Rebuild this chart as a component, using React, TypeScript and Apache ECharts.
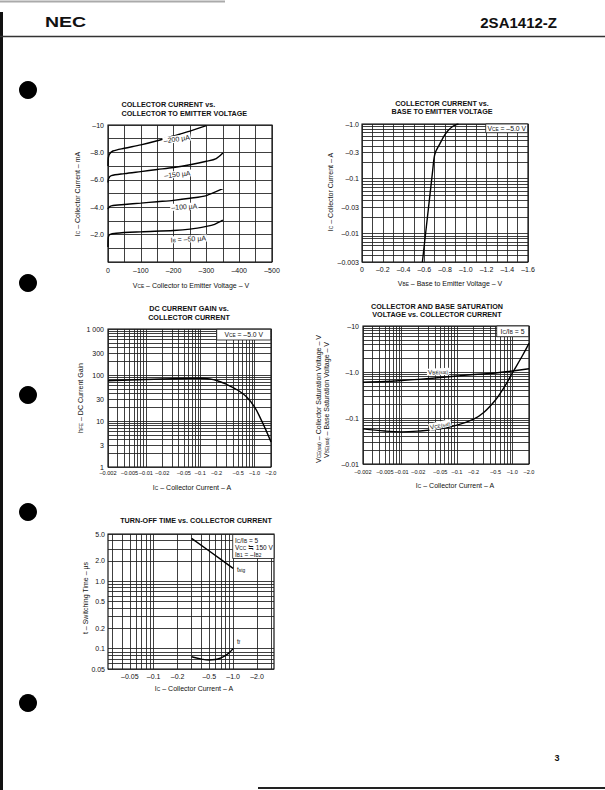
import React, { useEffect, useRef } from "react";
import * as echarts from "echarts";

const FONT = "'Liberation Sans', Arial, Helvetica, sans-serif";

// ---------- Chart 1: IC (mA) vs VCE (V) ----------
const ib200Vce = [0, -1, -5, -15, -50, -100, -150, -200, -250, -300];
const ib200Ic = [-7.0, -7.6, -7.9, -8.1, -8.3, -8.55, -8.85, -9.2, -9.55, -9.95];
const ib150Vce = [0, -2, -10, -50, -100, -150, -200, -250, -300, -330, -350];
const ib150Ic = [-5.8, -6.1, -6.3, -6.45, -6.6, -6.75, -6.9, -7.1, -7.35, -7.55, -7.95];
const ib100Vce = [0, -3, -10, -50, -100, -150, -200, -250, -300, -350];
const ib100Ic = [-3.85, -4.0, -4.1, -4.2, -4.3, -4.4, -4.5, -4.65, -4.85, -5.35];
const ib50Vce = [0, -1, -5, -25, -100, -200, -250, -300, -325, -350];
const ib50Ic = [-1.1, -1.8, -2.0, -2.1, -2.2, -2.3, -2.4, -2.6, -2.75, -3.05];

// ---------- Chart 2: IC (A) vs VBE (V) ----------
const vbeVolts = [-0.582, -0.6, -0.62, -0.64, -0.66, -0.68, -0.695, -0.71, -0.735, -0.76, -0.79, -0.83, -0.87, -0.9, -0.93];
const vbeIc = [-0.003, -0.006, -0.0131, -0.0284, -0.062, -0.134, -0.24, -0.31, -0.385, -0.47, -0.6, -0.76, -0.89, -0.96, -1.0];
const vbeIcLabelVals = [0.003, 0.01, 0.03, 0.1, 0.3, 1];
const vbeIcLabelText = ["–0.003", "–0.01", "–0.03", "–0.1", "–0.3", "–1.0"];

// ---------- Chart 3: hFE vs IC ----------
const hfeIc = [-0.002, -0.005, -0.01, -0.02, -0.05, -0.1, -0.15, -0.2, -0.3, -0.5, -0.7, -1.0, -1.3, -1.6, -2.0];
const hfeGain = [75, 78, 80, 82, 84, 85, 82, 76, 63, 46, 34, 20, 11, 6.5, 3.5];
const hfeLabelVals = [1, 3, 10, 30, 100, 300, 1000];
const hfeLabelText = ["1", "3", "10", "30", "100", "300", "1 000"];

// ---------- Chart 4: saturation voltages vs IC ----------
const satIcBe = [-0.002, -0.005, -0.01, -0.02, -0.05, -0.1, -0.2, -0.5, -1.0, -2.0];
const vbeSat = [-0.6, -0.62, -0.65, -0.69, -0.76, -0.82, -0.88, -0.95, -1.05, -1.18];
const satIcCe = [-0.002, -0.005, -0.01, -0.02, -0.05, -0.1, -0.2, -0.3, -0.5, -0.7, -1.0, -1.5, -2.0];
const vceSat = [-0.058, -0.052, -0.05, -0.052, -0.058, -0.07, -0.095, -0.13, -0.25, -0.45, -0.95, -2.2, -4.2];
const satLabelVals = [0.01, 0.1, 1, 10];
const satLabelText = ["–0.01", "–0.1", "–1.0", "–10"];

// shared collector-current log axis (charts 3, 4)
const icLabelVals = [0.002, 0.005, 0.01, 0.02, 0.05, 0.1, 0.2, 0.5, 1, 2];
const icLabelText = ["–0.002", "–0.005", "–0.01", "–0.02", "–0.05", "–0.1", "–0.2", "–0.5", "–1.0", "–2.0"];

// ---------- Chart 5: turn-off time vs IC ----------
const stgIc = [-0.3, -0.5, -0.7, -1.0];
const stgTime = [4.3, 2.8, 2.1, 1.55];
const tfIc = [-0.3, -0.4, -0.5, -0.6, -0.7, -0.85, -1.0];
const tfTime = [0.076, 0.07, 0.068, 0.069, 0.073, 0.083, 0.1];
const swLabelVals = [0.05, 0.1, 0.2, 0.5, 1, 2, 5];
const swLabelText = ["0.05", "0.1", "0.2", "0.5", "1.0", "2.0", "5.0"];
const swIcLabelVals = [0.05, 0.1, 0.2, 0.5, 1, 2];
const swIcLabelText = ["–0.05", "–0.1", "–0.2", "–0.5", "–1.0", "–2.0"];

// ---------- helpers ----------
const lg = (v: number) => Math.log10(Math.abs(v));
const zip = (a: number[], b: number[]) => a.map((v, i) => [v, b[i]]);
const zipLog = (a: number[], b: number[]) => a.map((v, i) => [lg(v), lg(b[i])]);

function logLines(lo: number, hi: number) {
  const out: number[] = [];
  for (let e = -4; e <= 4; e++) {
    for (let m = 1; m <= 9; m++) {
      const v = m * Math.pow(10, e);
      if (v >= lo * 0.9999 && v <= hi * 1.0001) out.push(Math.log10(v));
    }
  }
  return out;
}

const GRIDLINE = { color: "#1e1e1e", width: 0.85 };
const LABEL = { color: "#111", fontFamily: FONT, fontSize: 7 };

function logAxis(gridIndex: number, lo: number, hi: number, vals: number[], texts: string[], extra: any = {}) {
  const { axisLabel: al = {}, ...rest } = extra;
  return {
    type: "value",
    gridIndex,
    min: Math.log10(lo),
    max: Math.log10(hi),
    axisLine: { show: false },
    axisTick: { show: false, customValues: logLines(lo, hi) },
    splitLine: { show: true, lineStyle: GRIDLINE },
    axisLabel: {
      ...LABEL,
      customValues: vals.map(lg),
      formatter: (v: number) => {
        const i = vals.findIndex((x) => Math.abs(lg(x) - v) < 1e-6);
        return i >= 0 ? texts[i] : "";
      },
      ...al,
    },
    ...rest,
  };
}

function linAxis(gridIndex: number, min: number, max: number, interval: number, fmt: (v: number) => string, extra: any = {}) {
  const { axisLabel: al = {}, ...rest } = extra;
  return {
    type: "value",
    gridIndex,
    min,
    max,
    interval,
    axisLine: { show: false },
    axisTick: { show: false },
    splitLine: { show: true, lineStyle: GRIDLINE },
    axisLabel: { ...LABEL, formatter: fmt, ...al },
    ...rest,
  };
}

const RICH = {
  s: { fontSize: 4.8, fontFamily: FONT, fill: "#111", verticalAlign: "bottom", lineHeight: 7 },
};

function txt(x: number, y: number, text: string, o: any = {}) {
  return {
    type: "text",
    x,
    y,
    z: 30,
    silent: true,
    rotation: o.rotation || 0,
    scaleX: o.sx || 1,
    style: {
      text,
      fill: "#111",
      fontFamily: FONT,
      fontSize: o.size || 7,
      fontWeight: o.bold ? "bold" : "normal",
      align: o.align || "center",
      verticalAlign: o.valign || "middle",
      lineHeight: o.lh,
      rich: RICH,
      backgroundColor: o.bg,
      padding: o.pad,
    },
  };
}

function box(x: number, y: number, w: number, h: number) {
  return {
    type: "rect",
    z: 25,
    silent: true,
    shape: { x, y, width: w, height: h },
    style: { fill: "#fff", stroke: "#111", lineWidth: 0.8 },
  };
}

const line = (data: number[][], xi: number, smooth: number | boolean = 0.3, width = 1.4) => ({
  type: "line",
  xAxisIndex: xi,
  yAxisIndex: xi,
  data,
  showSymbol: false,
  symbol: "none",
  smooth,
  silent: true,
  z: 5,
  lineStyle: { color: "#000", width },
});

const grids = [
  { left: 108, top: 125, width: 164, height: 137 },
  { left: 362, top: 124, width: 166, height: 138 },
  { left: 108, top: 329, width: 163, height: 138 },
  { left: 363, top: 326, width: 166, height: 138 },
  { left: 108, top: 534, width: 166, height: 135 },
].map((g) => ({ ...g, show: true, borderColor: "#000", borderWidth: 1.1, backgroundColor: "transparent" }));

const minus = (n: number, d: number) => "–" + Math.abs(n).toFixed(d);
const TS = 7.2; // title font size

const option: any = {
  animation: false,
  backgroundColor: "#fff",
  grid: grids,
  xAxis: [
    linAxis(0, -500, 0, 50, (v) => (v === 0 ? "0" : Math.round(v) % 100 === 0 ? minus(v, 0) : ""), {
      inverse: true,
      axisLabel: { margin: 5 },
    }),
    linAxis(1, -1.6, 0, 0.1, (v) => {
      const k = Math.round(v * 10);
      if (k === 0) return "0";
      return k % 2 === 0 ? minus(k / 10, 1) : "";
    }, { inverse: true, axisLabel: { margin: 4 } }),
    logAxis(2, 0.002, 2, icLabelVals, icLabelText, { axisLabel: { fontSize: 5.6, margin: 3 } }),
    logAxis(3, 0.002, 2, icLabelVals, icLabelText, { axisLabel: { fontSize: 5.6, margin: 5 } }),
    logAxis(4, 0.0266, 3.27, swIcLabelVals, swIcLabelText, { axisLabel: { margin: 4 } }),
  ],
  yAxis: [
    linAxis(0, -10, 0, 1, (v) => {
      const k = Math.round(v);
      if (k === -10) return "–10";
      return k !== 0 && k % 2 === 0 ? minus(k, 1) : "";
    }, { inverse: true, axisLabel: { margin: 4 } }),
    logAxis(1, 0.003, 1, vbeIcLabelVals, vbeIcLabelText, { axisLabel: { margin: 3 } }),
    logAxis(2, 1, 1000, hfeLabelVals, hfeLabelText, { axisLabel: { margin: 4 } }),
    logAxis(3, 0.01, 10, satLabelVals, satLabelText, { axisLabel: { margin: 4 } }),
    logAxis(4, 0.05, 5, swLabelVals, swLabelText, { axisLabel: { margin: 3 } }),
  ],
  series: [
    line(zip(ib200Vce, ib200Ic), 0),
    line(zip(ib150Vce, ib150Ic), 0),
    line(zip(ib100Vce, ib100Ic), 0),
    line(zip(ib50Vce, ib50Ic), 0),
    line(zip(vbeVolts, vbeIc.map(lg)), 1, 0.3),
    line(zipLog(hfeIc, hfeGain), 2, 0.4),
    line(zipLog(satIcBe, vbeSat), 3, 0.4),
    line(zipLog(satIcCe, vceSat), 3, 0.4),
    line(zipLog(stgIc, stgTime), 4, false),
    line(zipLog(tfIc, tfTime), 4, 0.5),
  ],
  graphic: [
    // page furniture
    { type: "line", silent: true, shape: { x1: 0, y1: 1.5, x2: 225, y2: 1.5 }, style: { stroke: "#aaa", lineWidth: 2 } },
    { type: "rect", silent: true, shape: { x: 0, y: 12, width: 3, height: 778 }, style: { fill: "#111" } },
    { type: "line", silent: true, shape: { x1: 0, y1: 36.5, x2: 605, y2: 36.5 }, style: { stroke: "#333", lineWidth: 1.4 } },
    { type: "line", silent: true, shape: { x1: 258, y1: 788, x2: 605, y2: 788 }, style: { stroke: "#222", lineWidth: 2 } },
    txt(45, 22, "NEC", { size: 15, bold: true, align: "left", sx: 1.3 }),
    txt(557, 22, "2SA1412-Z", { size: 15, bold: true, align: "right" }),
    txt(557, 758, "3", { size: 9, bold: true }),
    ...[90, 283, 395, 512, 703].map((cy) => ({
      type: "circle",
      silent: true,
      shape: { cx: 28, cy, r: 9 },
      style: { fill: "#000" },
    })),

    // chart 1
    txt(121.5, 104.5, "COLLECTOR CURRENT vs.", { size: TS, bold: true, align: "left" }),
    txt(121.5, 113, "COLLECTOR TO EMITTER VOLTAGE", { size: TS, bold: true, align: "left" }),
    txt(77, 194, "I{s|C} – Collector Current – mA", { rotation: Math.PI / 2 }),
    txt(191, 285, "V{s|CE} – Collector to Emitter Voltage – V"),
    txt(176.7, 139, "–200 µA", { rotation: 0.14, bg: "#fff", pad: [0, 1] }),
    txt(177.3, 174.3, "–150 µA", { rotation: 0.1, bg: "#fff", pad: [0, 1] }),
    txt(184.3, 206.7, "–100 µA", { rotation: 0.06, bg: "#fff", pad: [0, 1] }),
    txt(188.3, 239, "I{s|B} = –50 µA", { rotation: 0.05, bg: "#fff", pad: [0, 1] }),

    // chart 2
    txt(442, 103, "COLLECTOR CURRENT vs.", { size: TS, bold: true }),
    txt(442, 111.5, "BASE TO EMITTER VOLTAGE", { size: TS, bold: true }),
    box(485.7, 124, 42, 8.7),
    txt(506.7, 128.5, "V{s|CE} = –5.0 V", { size: 6.8 }),
    txt(330, 192, "I{s|C} – Collector Current – A", { rotation: Math.PI / 2 }),
    txt(450, 283, "V{s|BE} – Base to Emitter Voltage – V"),

    // chart 3
    txt(189, 308.5, "DC CURRENT GAIN vs.", { size: TS, bold: true }),
    txt(189, 317, "COLLECTOR CURRENT", { size: TS, bold: true }),
    box(216.7, 329.3, 54, 10.7),
    txt(243.7, 334.7, "V{s|CE} = –5.0 V", { size: 6.8 }),
    txt(80, 398, "h{s|FE} – DC Current Gain", { rotation: Math.PI / 2 }),
    txt(192, 487, "I{s|C} – Collector Current – A"),

    // chart 4
    txt(437, 306, "COLLECTOR AND BASE SATURATION", { size: TS, bold: true }),
    txt(437, 314.5, "VOLTAGE vs. COLLECTOR CURRENT", { size: TS, bold: true }),
    box(496.7, 326, 32, 10.7),
    txt(512.5, 331.3, "I{s|C}/I{s|B} = 5", { size: 6.8 }),
    txt(318, 463, "V{s|CE(sat)} – Collector Saturation Voltage – V", { rotation: Math.PI / 2, align: "left" }),
    txt(326, 458, "V{s|BE(sat)} – Base Saturation Voltage – V", { rotation: Math.PI / 2, align: "left" }),
    txt(455, 485, "I{s|C} – Collector Current – A"),
    txt(438, 371.7, "V{s|BE(sat)}", { size: 6.5, bg: "#fff", pad: [0, 1], rotation: 0.04 }),
    txt(440, 425, "V{s|CE(sat)}", { size: 6.5, bg: "#fff", pad: [0, 1], rotation: 0.22 }),

    // chart 5
    txt(196, 520, "TURN-OFF TIME vs. COLLECTOR CURRENT", { size: TS, bold: true }),
    box(232.7, 534.5, 41.3, 24),
    txt(235, 540, "I{s|C}/I{s|B} = 5", { size: 6.5, align: "left" }),
    txt(235, 547.2, "V{s|CC} ≒ 150 V", { size: 6.5, align: "left" }),
    txt(235, 554.4, "I{s|B1} = –I{s|B2}", { size: 6.5, align: "left" }),
    txt(237, 569.5, "t{s|stg}", { size: 6.5, align: "left", bg: "#fff" }),
    txt(237, 641.5, "t{s|f}", { size: 6.5, align: "left", bg: "#fff" }),
    txt(85, 598, "t – Switching Time – µs", { rotation: Math.PI / 2 }),
    txt(194, 688.5, "I{s|C} – Collector Current – A"),
  ],
};

export default function App() {
  const ref = useRef<HTMLDivElement>(null);
  useEffect(() => {
    const chart = echarts.init(ref.current!, null, { renderer: "svg" });
    chart.setOption(option);
    return () => chart.dispose();
  }, []);
  return (
    <div
      ref={ref}
      style={{ position: "absolute", left: 0, top: 0, width: 605, height: 790, background: "#fff" }}
    />
  );
}
